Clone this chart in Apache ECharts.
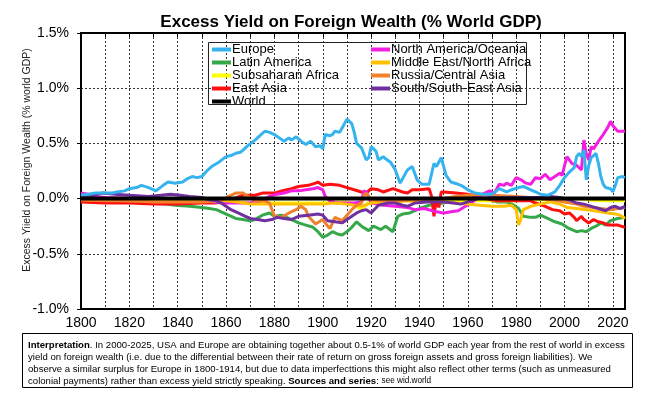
<!DOCTYPE html>
<html>
<head>
<meta charset="utf-8">
<script src="https://cdn.jsdelivr.net/npm/echarts@6/dist/echarts.min.js"></script>
<style>
  html, body { margin: 0; padding: 0; background: #fff; }
  #container { width: 647px; height: 397px; }
</style>
</head>
<body>
<div id="container"></div>
<script>
var myChart = echarts.init(document.getElementById('container'));

// [year, % of world GDP]
var europe = [[1800,0.03],[1803,0.04],[1806,0.05],[1810,0.05],[1813,0.05],[1815,0.06],[1818,0.07],[1820,0.09],[1823,0.1],[1825,0.12],[1828,0.1],[1831,0.07],[1834,0.12],[1836,0.15],[1839,0.14],[1842,0.15],[1844,0.18],[1846,0.2],[1848,0.19],[1850,0.2],[1852,0.25],[1854,0.29],[1857,0.33],[1860,0.38],[1862,0.39],[1864,0.41],[1866,0.42],[1867,0.44],[1869,0.48],[1872,0.53],[1874,0.57],[1876,0.61],[1878,0.6],[1880,0.58],[1882,0.55],[1884,0.52],[1886,0.55],[1887,0.53],[1889,0.56],[1891,0.52],[1893,0.49],[1895,0.52],[1897,0.47],[1899,0.48],[1900,0.45],[1901,0.58],[1903,0.57],[1904,0.58],[1905,0.61],[1907,0.6],[1908,0.64],[1910,0.72],[1911,0.7],[1912,0.68],[1913,0.6],[1914,0.5],[1916,0.46],[1918,0.35],[1919,0.37],[1920,0.47],[1921,0.45],[1922,0.43],[1923,0.35],[1925,0.38],[1926,0.36],[1928,0.33],[1930,0.26],[1932,0.14],[1933,0.18],[1935,0.26],[1937,0.29],[1939,0.17],[1941,0.13],[1944,0.13],[1946,0.32],[1947,0.29],[1949,0.37],[1951,0.21],[1953,0.15],[1956,0.13],[1958,0.11],[1960,0.08],[1963,0.05],[1966,0.04],[1970,0.04],[1973,0.09],[1976,0.06],[1978,0.08],[1981,0.1],[1983,0.11],[1986,0.08],[1988,0.06],[1990,0.04],[1993,0.03],[1996,0.06],[1998,0.12],[2000,0.19],[2002,0.24],[2004,0.28],[2005,0.38],[2006,0.41],[2007,0.38],[2008,0.44],[2009,0.17],[2010,0.3],[2011,0.37],[2013,0.41],[2014,0.32],[2015,0.2],[2016,0.13],[2017,0.1],[2019,0.09],[2020,0.06],[2021,0.12],[2022,0.19],[2024,0.2],[2025,0.19]];

var latinAmerica = [[1800,-0.01],[1810,-0.02],[1820,-0.03],[1828,-0.04],[1835,-0.05],[1839,-0.06],[1845,-0.07],[1850,-0.08],[1853,-0.09],[1856,-0.1],[1858,-0.12],[1861,-0.15],[1864,-0.18],[1867,-0.19],[1870,-0.2],[1872,-0.19],[1875,-0.15],[1878,-0.13],[1880,-0.16],[1883,-0.15],[1886,-0.18],[1890,-0.22],[1893,-0.24],[1896,-0.26],[1898,-0.3],[1900,-0.35],[1902,-0.33],[1904,-0.3],[1906,-0.32],[1908,-0.33],[1910,-0.3],[1912,-0.26],[1914,-0.21],[1916,-0.25],[1919,-0.29],[1921,-0.25],[1924,-0.28],[1926,-0.25],[1929,-0.3],[1931,-0.16],[1933,-0.14],[1936,-0.13],[1940,-0.09],[1944,-0.06],[1947,-0.05],[1950,-0.04],[1953,-0.02],[1957,0.0],[1960,0.01],[1964,0.0],[1968,-0.01],[1972,-0.03],[1976,-0.03],[1979,-0.06],[1981,-0.09],[1983,-0.16],[1986,-0.17],[1988,-0.17],[1990,-0.15],[1993,-0.18],[1996,-0.21],[1999,-0.23],[2001,-0.26],[2003,-0.28],[2005,-0.3],[2007,-0.29],[2009,-0.3],[2011,-0.27],[2013,-0.25],[2015,-0.22],[2017,-0.24],[2019,-0.2],[2022,-0.18],[2025,-0.17]];

var subsaharanAfrica = [[1800,-0.01],[1820,-0.02],[1840,-0.02],[1860,-0.02],[1865,-0.03],[1870,-0.04],[1880,-0.04],[1890,-0.04],[1900,-0.04],[1905,-0.03],[1910,-0.03],[1913,-0.05],[1915,-0.09],[1917,-0.08],[1919,-0.03],[1925,-0.02],[1935,-0.01],[1945,-0.01],[1955,-0.02],[1960,-0.02],[1970,-0.02],[1980,-0.02],[1990,-0.01],[2000,-0.01],[2005,0.0],[2010,-0.01],[2015,-0.02],[2020,-0.02],[2025,-0.02]];

var eastAsia = [[1800,-0.03],[1810,-0.04],[1820,-0.04],[1830,-0.05],[1840,-0.05],[1850,-0.04],[1855,-0.04],[1860,-0.03],[1863,0.0],[1867,0.03],[1872,0.03],[1875,0.05],[1880,0.05],[1883,0.07],[1887,0.09],[1890,0.11],[1894,0.12],[1897,0.14],[1898,0.15],[1900,0.12],[1903,0.13],[1907,0.12],[1910,0.1],[1913,0.08],[1916,0.06],[1918,0.05],[1920,0.09],[1923,0.08],[1925,0.06],[1929,0.09],[1933,0.06],[1935,0.05],[1937,0.08],[1940,0.08],[1944,0.09],[1945,0.02],[1946,-0.16],[1947,0.0],[1948,-0.08],[1949,0.06],[1950,0.06],[1955,0.05],[1960,0.04],[1964,0.02],[1967,0.0],[1972,-0.02],[1976,-0.02],[1981,-0.02],[1986,-0.02],[1988,-0.04],[1992,-0.07],[1995,-0.1],[1998,-0.11],[2000,-0.14],[2002,-0.13],[2004,-0.17],[2005,-0.2],[2007,-0.16],[2008,-0.19],[2010,-0.22],[2012,-0.19],[2014,-0.21],[2016,-0.22],[2018,-0.24],[2020,-0.24],[2022,-0.24],[2025,-0.26]];

var world = [[1800,0],[2025,0]];

var northAmerica = [[1800,0.05],[1803,0.04],[1806,0.02],[1810,0.01],[1820,0.0],[1830,-0.01],[1840,-0.01],[1850,-0.02],[1855,-0.03],[1860,-0.04],[1865,-0.04],[1870,-0.04],[1875,-0.02],[1878,0.02],[1881,0.04],[1884,0.05],[1887,0.07],[1890,0.07],[1893,0.08],[1896,0.09],[1898,0.1],[1900,0.08],[1901,0.02],[1903,-0.02],[1906,-0.04],[1910,-0.04],[1913,-0.04],[1916,-0.03],[1917,0.07],[1918,0.06],[1920,-0.04],[1925,-0.06],[1930,-0.07],[1935,-0.08],[1938,-0.1],[1942,-0.09],[1947,-0.12],[1950,-0.13],[1953,-0.12],[1956,-0.11],[1959,-0.07],[1962,-0.03],[1965,0.03],[1967,0.05],[1969,0.07],[1971,0.05],[1973,0.13],[1975,0.12],[1976,0.14],[1978,0.12],[1980,0.19],[1982,0.17],[1984,0.14],[1986,0.13],[1988,0.19],[1990,0.18],[1992,0.22],[1994,0.17],[1996,0.2],[1998,0.23],[1999,0.21],[2000,0.3],[2001,0.38],[2003,0.32],[2005,0.3],[2007,0.26],[2008,0.53],[2009,0.4],[2010,0.35],[2011,0.47],[2012,0.45],[2014,0.52],[2016,0.58],[2018,0.65],[2019,0.7],[2020,0.66],[2022,0.61],[2025,0.61]];

var middleEast = [[1800,-0.01],[1820,-0.02],[1840,-0.02],[1860,-0.02],[1865,-0.03],[1870,-0.05],[1880,-0.05],[1890,-0.05],[1900,-0.05],[1905,-0.04],[1910,-0.05],[1913,-0.06],[1916,-0.07],[1920,-0.04],[1925,-0.03],[1930,-0.03],[1935,-0.02],[1940,-0.03],[1945,-0.02],[1950,-0.03],[1955,-0.04],[1960,-0.05],[1965,-0.06],[1970,-0.07],[1975,-0.07],[1978,-0.06],[1980,-0.1],[1981,-0.24],[1982,-0.18],[1983,-0.1],[1986,-0.07],[1990,-0.05],[1994,-0.03],[1998,-0.05],[2001,-0.08],[2005,-0.09],[2009,-0.1],[2012,-0.11],[2015,-0.12],[2018,-0.13],[2021,-0.14],[2023,-0.15],[2025,-0.18]];

var russia = [[1800,-0.01],[1810,-0.02],[1820,-0.02],[1830,-0.03],[1840,-0.03],[1850,-0.03],[1858,-0.02],[1861,0.02],[1864,0.05],[1867,0.05],[1869,0.02],[1872,-0.02],[1876,-0.02],[1878,-0.04],[1880,-0.16],[1883,-0.17],[1886,-0.13],[1889,-0.1],[1891,-0.07],[1893,-0.1],[1894,-0.16],[1897,-0.23],[1900,-0.19],[1902,-0.25],[1903,-0.27],[1905,-0.17],[1908,-0.2],[1910,-0.15],[1912,-0.1],[1914,-0.06],[1916,-0.04],[1917,0.03],[1918,0.05],[1920,-0.01],[1925,-0.02],[1930,-0.02],[1940,-0.01],[1950,0.0],[1955,0.02],[1960,0.03],[1965,0.04],[1970,0.03],[1980,0.02],[1990,0.0],[1995,-0.01],[2000,-0.03],[2005,-0.05],[2008,-0.07],[2012,-0.08],[2015,-0.09],[2019,-0.1],[2022,-0.09],[2025,-0.08]];

var southAsia = [[1800,0.02],[1805,0.03],[1809,0.05],[1814,0.04],[1820,0.03],[1828,0.02],[1833,0.03],[1837,0.04],[1841,0.03],[1845,0.02],[1850,0.01],[1853,-0.01],[1856,-0.02],[1858,-0.04],[1860,-0.07],[1862,-0.1],[1865,-0.13],[1868,-0.16],[1870,-0.18],[1873,-0.19],[1876,-0.2],[1879,-0.19],[1881,-0.17],[1884,-0.18],[1887,-0.19],[1890,-0.16],[1894,-0.15],[1898,-0.14],[1900,-0.15],[1902,-0.2],[1905,-0.21],[1908,-0.22],[1910,-0.19],[1912,-0.16],[1914,-0.13],[1916,-0.11],[1918,-0.1],[1920,-0.13],[1923,-0.06],[1927,-0.04],[1930,-0.04],[1933,-0.06],[1935,-0.07],[1938,-0.04],[1943,-0.03],[1947,-0.03],[1950,-0.03],[1954,-0.04],[1957,-0.05],[1960,-0.03],[1964,0.0],[1970,0.01],[1980,0.01],[1990,0.01],[1994,0.02],[1998,0.01],[2000,0.0],[2003,-0.02],[2005,-0.04],[2008,-0.05],[2011,-0.07],[2014,-0.09],[2017,-0.11],[2019,-0.08],[2021,-0.07],[2023,-0.09],[2025,-0.07]];

var legendLeft = ['Europe', 'Latin America', 'Subsaharan Africa', 'East Asia', 'World'];
var legendRight = ['North America/Oceania', 'Middle East/North Africa', 'Russia/Central Asia', 'South/South-East Asia'];

var font = 'Liberation Sans, Arial, sans-serif';

function line(name, data, color, width, z) {
  return {
    name: name,
    type: 'line',
    data: data,
    showSymbol: false,
    symbol: 'none',
    z: z || 2,
    lineStyle: { color: color, width: width || 3 },
    itemStyle: { color: color }
  };
}

var legendBase = {
  orient: 'vertical',
  padding: 0,
  itemGap: 0,
  itemWidth: 19,
  itemHeight: 4,
  icon: 'rect',
  textStyle: { fontFamily: font, fontSize: 13, color: '#000', lineHeight: 12, padding: [0, 0, 0, -4] }
};

var option = {
  backgroundColor: '#fff',
  animation: false,
  title: {
    text: 'Excess Yield on Foreign Wealth (% World GDP)',
    left: 346,
    textAlign: 'center',
    top: 9,
    textStyle: { fontFamily: font, fontSize: 17, fontWeight: 'bold', color: '#000' }
  },
  legend: [
    Object.assign({}, legendBase, { data: legendLeft, left: 212, top: 43 }),
    Object.assign({}, legendBase, { data: legendRight, left: 371, top: 43 })
  ],
  grid: {
    left: 81, right: 22, top: 33, bottom: 88,
    show: true, borderColor: '#000', borderWidth: 2, backgroundColor: 'transparent'
  },
  xAxis: [{
    type: 'value',
    min: 1800, max: 2025, interval: 10,
    axisLine: { show: false },
    axisTick: { show: false },
    axisLabel: {
      fontFamily: font, fontSize: 14, color: '#000', margin: 7,
      showMaxLabel: false,
      formatter: function (v) { return v % 20 === 0 ? String(v) : ''; }
    },
    splitLine: { show: true, lineStyle: { color: '#000', width: 0.8, type: [2, 2] } }
  }, {
    type: 'value', position: 'top',
    min: 1800, max: 2025, interval: 10,
    axisLine: { show: false },
    axisTick: { show: true, inside: true, length: 4, lineStyle: { color: '#000' } },
    axisLabel: { show: false },
    splitLine: { show: false }
  }],
  yAxis: {
    type: 'value',
    min: -1, max: 1.5, interval: 0.5,
    axisLine: { show: false },
    axisTick: { show: true, length: 4, lineStyle: { color: '#000' } },
    axisLabel: {
      fontFamily: font, fontSize: 14, color: '#000', margin: 12,
      formatter: function (v) { return v.toFixed(1) + '%'; }
    },
    splitLine: { show: true, lineStyle: { color: '#000', width: 0.8, type: [2, 2] } }
  },
  graphic: [
    {
      type: 'rect', left: 208, top: 42, z: 50,
      shape: { width: 318, height: 62 },
      style: { fill: 'rgba(255,255,255,0)', stroke: '#222', lineWidth: 1 }
    },
    {
      type: 'text', x: 27, y: 160, rotation: Math.PI / 2,
      style: {
        text: 'Excess Yiield on Foreign Wealth (% world GDP)',
        fontFamily: font, fontSize: 10.5, fill: '#222',
        align: 'center', verticalAlign: 'middle'
      }
    },
    {
      type: 'rect', left: 22, top: 333,
      shape: { width: 610, height: 54 },
      style: { fill: '#fff', stroke: '#000', lineWidth: 1 }
    },
    {
      type: 'text', x: 28, y: 339,
      style: {
        text: '{b|Interpretation}. In 2000-2025, USA and Europe are obtaining together about 0.5-1% of world GDP each year from the rest of world in excess\n' +
              'yield on foreign wealth (i.e. due to the differential between their rate of return on gross foreign assets and gross foreign liabilities). We\n' +
              'observe a similar surplus for Europe in 1800-1914, but due to data imperfecttions this might also reflect other terms (such as unmeasured\n' +
              'colonial payments) rather than excess yield strictly speaking. {b|Sources and series}: {s|see wid.world}',
        fontFamily: font, fontSize: 9.6, fill: '#000', lineHeight: 12,
        rich: {
          b: { fontFamily: font, fontSize: 9.6, fontWeight: 'bold', lineHeight: 12 },
          s: { fontFamily: font, fontSize: 8.2, lineHeight: 12 }
        }
      }
    }
  ],
  series: [
    line('Europe', europe, '#35b3ee', 3, 4),
    line('Latin America', latinAmerica, '#35a94a', 3, 3),
    line('Subsaharan Africa', subsaharanAfrica, '#ffff00', 3, 3),
    line('East Asia', eastAsia, '#ff1010', 3, 3),
    line('World', world, '#000000', 4, 10),
    line('North America/Oceania', northAmerica, '#f21fe0', 3, 3),
    line('Middle East/North Africa', middleEast, '#ffc000', 3, 3),
    line('Russia/Central Asia', russia, '#f0822d', 3, 3),
    line('South/South-East Asia', southAsia, '#7030a0', 3, 3)
  ]
};

myChart.setOption(option);
</script>
</body>
</html>
